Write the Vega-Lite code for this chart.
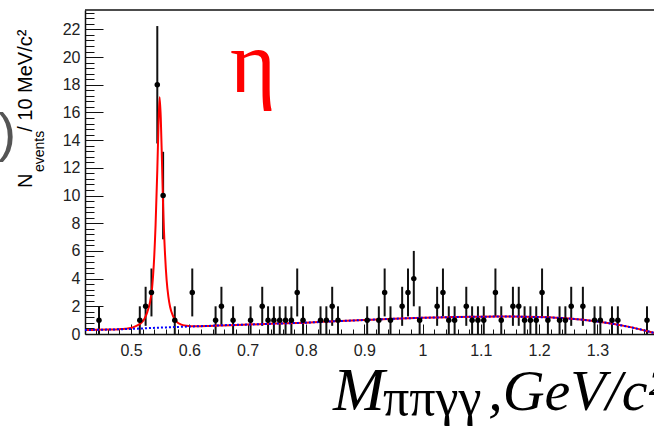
{
  "$schema": "https://vega.github.io/schema/vega-lite/v6.json",
  "autosize": {"type": "none"},
  "width": 569,
  "height": 324,
  "padding": {"left": 85, "top": 10, "right": 0, "bottom": 94},
  "background": "white",
  "config": {"view": {"stroke": null}, "axis": {"labelFont": "Liberation Sans", "labelFontSize": 16, "labelColor": "#222", "domainColor": "#111", "tickColor": "#111", "grid": false, "title": null}},
  "datasets": {
    "hist": [
      {"m": 0.445, "n": 1, "lo": 0, "hi": 2},
      {"m": 0.515, "n": 1, "lo": 0, "hi": 2},
      {"m": 0.525, "n": 2, "lo": 0.59, "hi": 3.41},
      {"m": 0.535, "n": 3, "lo": 1.27, "hi": 4.73},
      {"m": 0.545, "n": 18, "lo": 13.76, "hi": 22.24},
      {"m": 0.555, "n": 10, "lo": 6.84, "hi": 13.16},
      {"m": 0.575, "n": 1, "lo": 0, "hi": 2},
      {"m": 0.605, "n": 3, "lo": 1.27, "hi": 4.73},
      {"m": 0.645, "n": 1, "lo": 0, "hi": 2},
      {"m": 0.655, "n": 2, "lo": 0.59, "hi": 3.41},
      {"m": 0.675, "n": 1, "lo": 0, "hi": 2},
      {"m": 0.705, "n": 1, "lo": 0, "hi": 2},
      {"m": 0.725, "n": 2, "lo": 0.59, "hi": 3.41},
      {"m": 0.735, "n": 1, "lo": 0, "hi": 2},
      {"m": 0.745, "n": 1, "lo": 0, "hi": 2},
      {"m": 0.755, "n": 1, "lo": 0, "hi": 2},
      {"m": 0.765, "n": 1, "lo": 0, "hi": 2},
      {"m": 0.775, "n": 1, "lo": 0, "hi": 2},
      {"m": 0.785, "n": 3, "lo": 1.27, "hi": 4.73},
      {"m": 0.795, "n": 1, "lo": 0, "hi": 2},
      {"m": 0.825, "n": 1, "lo": 0, "hi": 2},
      {"m": 0.835, "n": 1, "lo": 0, "hi": 2},
      {"m": 0.845, "n": 2, "lo": 0.59, "hi": 3.41},
      {"m": 0.855, "n": 1, "lo": 0, "hi": 2},
      {"m": 0.905, "n": 1, "lo": 0, "hi": 2},
      {"m": 0.925, "n": 1, "lo": 0, "hi": 2},
      {"m": 0.935, "n": 3, "lo": 1.27, "hi": 4.73},
      {"m": 0.945, "n": 1, "lo": 0, "hi": 2},
      {"m": 0.965, "n": 2, "lo": 0.59, "hi": 3.41},
      {"m": 0.975, "n": 3, "lo": 1.27, "hi": 4.73},
      {"m": 0.985, "n": 4, "lo": 2, "hi": 6},
      {"m": 0.995, "n": 1, "lo": 0, "hi": 2},
      {"m": 1.025, "n": 2, "lo": 0.59, "hi": 3.41},
      {"m": 1.035, "n": 3, "lo": 1.27, "hi": 4.73},
      {"m": 1.045, "n": 1, "lo": 0, "hi": 2},
      {"m": 1.055, "n": 1, "lo": 0, "hi": 2},
      {"m": 1.075, "n": 2, "lo": 0.59, "hi": 3.41},
      {"m": 1.085, "n": 1, "lo": 0, "hi": 2},
      {"m": 1.095, "n": 1, "lo": 0, "hi": 2},
      {"m": 1.105, "n": 1, "lo": 0, "hi": 2},
      {"m": 1.125, "n": 3, "lo": 1.27, "hi": 4.73},
      {"m": 1.135, "n": 1, "lo": 0, "hi": 2},
      {"m": 1.155, "n": 2, "lo": 0.59, "hi": 3.41},
      {"m": 1.165, "n": 2, "lo": 0.59, "hi": 3.41},
      {"m": 1.175, "n": 1, "lo": 0, "hi": 2},
      {"m": 1.185, "n": 1, "lo": 0, "hi": 2},
      {"m": 1.195, "n": 1, "lo": 0, "hi": 2},
      {"m": 1.205, "n": 3, "lo": 1.27, "hi": 4.73},
      {"m": 1.215, "n": 1, "lo": 0, "hi": 2},
      {"m": 1.235, "n": 1, "lo": 0, "hi": 2},
      {"m": 1.245, "n": 1, "lo": 0, "hi": 2},
      {"m": 1.255, "n": 2, "lo": 0.59, "hi": 3.41},
      {"m": 1.275, "n": 2, "lo": 0.59, "hi": 3.41},
      {"m": 1.295, "n": 1, "lo": 0, "hi": 2},
      {"m": 1.305, "n": 1, "lo": 0, "hi": 2},
      {"m": 1.325, "n": 1, "lo": 0, "hi": 2},
      {"m": 1.335, "n": 1, "lo": 0, "hi": 2},
      {"m": 1.385, "n": 1, "lo": 0, "hi": 2}
    ],
    "fit": [
      {"m": 0.421, "y": 0.29}, {"m": 0.44, "y": 0.30}, {"m": 0.46, "y": 0.32}, {"m": 0.48, "y": 0.35},
      {"m": 0.49, "y": 0.38}, {"m": 0.50, "y": 0.44}, {"m": 0.51, "y": 0.60}, {"m": 0.518, "y": 0.82},
      {"m": 0.523, "y": 1.1}, {"m": 0.528, "y": 1.6}, {"m": 0.532, "y": 2.2}, {"m": 0.536, "y": 3.3},
      {"m": 0.539, "y": 5.0}, {"m": 0.542, "y": 7.8}, {"m": 0.545, "y": 11.8}, {"m": 0.547, "y": 15.0},
      {"m": 0.549, "y": 17.1}, {"m": 0.551, "y": 15.6}, {"m": 0.553, "y": 12.5}, {"m": 0.555, "y": 9.2},
      {"m": 0.558, "y": 6.0}, {"m": 0.561, "y": 3.9}, {"m": 0.564, "y": 2.7}, {"m": 0.567, "y": 1.95},
      {"m": 0.572, "y": 1.3}, {"m": 0.578, "y": 0.9}, {"m": 0.585, "y": 0.7}, {"m": 0.595, "y": 0.6},
      {"m": 0.61, "y": 0.56}, {"m": 0.63, "y": 0.58}, {"m": 0.65, "y": 0.62}, {"m": 0.70, "y": 0.68},
      {"m": 0.75, "y": 0.75}, {"m": 0.80, "y": 0.82}, {"m": 0.85, "y": 0.92}, {"m": 0.90, "y": 1.01},
      {"m": 0.95, "y": 1.10}, {"m": 1.00, "y": 1.17}, {"m": 1.05, "y": 1.22}, {"m": 1.10, "y": 1.25},
      {"m": 1.15, "y": 1.26}, {"m": 1.20, "y": 1.22}, {"m": 1.25, "y": 1.12}, {"m": 1.30, "y": 0.90},
      {"m": 1.35, "y": 0.55}, {"m": 1.40, "y": 0.05}
    ],
    "bkg": [
      {"m": 0.421, "y": 0.29}, {"m": 0.45, "y": 0.31}, {"m": 0.48, "y": 0.34}, {"m": 0.50, "y": 0.37},
      {"m": 0.55, "y": 0.46}, {"m": 0.60, "y": 0.54}, {"m": 0.63, "y": 0.58}, {"m": 0.65, "y": 0.62},
      {"m": 0.70, "y": 0.68}, {"m": 0.75, "y": 0.75}, {"m": 0.80, "y": 0.82}, {"m": 0.85, "y": 0.92},
      {"m": 0.90, "y": 1.01}, {"m": 0.95, "y": 1.10}, {"m": 1.00, "y": 1.17}, {"m": 1.05, "y": 1.22},
      {"m": 1.10, "y": 1.25}, {"m": 1.15, "y": 1.26}, {"m": 1.20, "y": 1.22}, {"m": 1.25, "y": 1.12},
      {"m": 1.30, "y": 0.90}, {"m": 1.35, "y": 0.55}, {"m": 1.40, "y": 0.05}
    ],
    "one": [{}]
  },
  "resolve": {"axis": {"x": "independent", "y": "independent"}},
  "layer": [
    {
      "data": {"name": "hist"},
      "mark": {"type": "rule", "color": "#111", "strokeWidth": 2},
      "encoding": {
        "x": {"field": "m", "type": "quantitative", "scale": {"domain": [0.421, 1.397], "nice": false, "zero": false},
              "axis": {"orient": "bottom", "values": [0.5, 0.6, 0.7, 0.8, 0.9, 1, 1.1, 1.2, 1.3, 1.4], "format": "~g", "tickSize": -10, "labelPadding": 18, "domainWidth": 1.5, "tickWidth": 1}},
        "y": {"field": "lo", "type": "quantitative", "scale": {"domain": [0, 23.4], "nice": false},
              "axis": {"orient": "left", "values": [0, 2, 4, 6, 8, 10, 12, 14, 16, 18, 20, 22], "tickSize": -18, "labelPadding": 23, "domainWidth": 1.5, "tickWidth": 1}},
        "y2": {"field": "hi"}
      }
    },
    {
      "data": {"name": "fit"},
      "mark": {"type": "line", "color": "#ff0000", "strokeWidth": 2, "interpolate": "monotone", "clip": true},
      "encoding": {
        "x": {"field": "m", "type": "quantitative", "axis": {"orient": "bottom", "values": [0.44, 0.46, 0.48, 0.52, 0.54, 0.56, 0.58, 0.62, 0.64, 0.66, 0.68, 0.72, 0.74, 0.76, 0.78, 0.82, 0.84, 0.86, 0.88, 0.92, 0.94, 0.96, 0.98, 1.02, 1.04, 1.06, 1.08, 1.12, 1.14, 1.16, 1.18, 1.22, 1.24, 1.26, 1.28, 1.32, 1.34, 1.36, 1.38], "tickSize": -5, "labels": false, "domain": false, "tickWidth": 1}},
        "y": {"field": "y", "type": "quantitative", "axis": {"orient": "left", "values": [0.4, 0.8, 1.2, 1.6, 2.4, 2.8, 3.2, 3.6, 4.4, 4.8, 5.2, 5.6, 6.4, 6.8, 7.2, 7.6, 8.4, 8.8, 9.2, 9.6, 10.4, 10.8, 11.2, 11.6, 12.4, 12.8, 13.2, 13.6, 14.4, 14.8, 15.2, 15.6, 16.4, 16.8, 17.2, 17.6, 18.4, 18.8, 19.2, 19.6, 20.4, 20.8, 21.2, 21.6, 22.4, 22.8, 23.2], "tickSize": -9, "labels": false, "domain": false, "tickWidth": 1}}
      }
    },
    {
      "data": {"name": "bkg"},
      "mark": {"type": "line", "color": "#0000ff", "strokeWidth": 2, "strokeDash": [2, 2], "interpolate": "monotone", "clip": true},
      "encoding": {
        "x": {"field": "m", "type": "quantitative", "axis": null},
        "y": {"field": "y", "type": "quantitative", "axis": null}
      }
    },
    {
      "data": {"name": "hist"},
      "mark": {"type": "circle", "color": "#000", "size": 30, "opacity": 1},
      "encoding": {
        "x": {"field": "m", "type": "quantitative", "axis": null},
        "y": {"field": "n", "type": "quantitative", "axis": null}
      }
    },
    {
      "data": {"name": "one"},
      "mark": {"type": "rule", "color": "#111", "strokeWidth": 1.5},
      "encoding": {
        "y": {"datum": 23.4, "type": "quantitative", "axis": null}
      }
    },
    {
      "data": {"name": "one"},
      "mark": {"type": "text", "text": "η", "font": "Liberation Serif", "fontSize": 88, "color": "#ff0000", "align": "center", "baseline": "alphabetic", "clip": false},
      "encoding": {
        "x": {"datum": 0.7094, "type": "quantitative", "axis": null},
        "y": {"datum": 17.5, "type": "quantitative", "axis": null}
      }
    },
    {
      "data": {"name": "one"},
      "mark": {"type": "text", "text": ")", "font": "Liberation Sans", "fontSize": 54, "color": "#555", "align": "right", "baseline": "middle", "clip": false},
      "encoding": {
        "x": {"datum": 0.3026, "type": "quantitative", "axis": null},
        "y": {"datum": 14.37, "type": "quantitative", "axis": null}
      }
    },
    {
      "data": {"name": "one"},
      "mark": {"type": "text", "text": "M", "font": "Liberation Serif", "fontStyle": "italic", "fontSize": 62, "color": "#000", "align": "left", "baseline": "alphabetic", "clip": false},
      "encoding": {
        "x": {"datum": 0.8464, "type": "quantitative", "axis": null},
        "y": {"datum": -5.49, "type": "quantitative", "axis": null}
      }
    },
    {
      "data": {"name": "one"},
      "mark": {"type": "text", "text": "ππγγ", "font": "Liberation Serif", "fontSize": 52, "color": "#000", "align": "left", "baseline": "alphabetic", "clip": false},
      "encoding": {
        "x": {"datum": 0.9321, "type": "quantitative", "axis": null},
        "y": {"datum": -5.85, "type": "quantitative", "axis": null}
      }
    },
    {
      "data": {"name": "one"},
      "mark": {"type": "text", "text": ",GeV/c²", "font": "Liberation Serif", "fontStyle": "italic", "fontSize": 58, "color": "#000", "align": "left", "baseline": "alphabetic", "clip": false},
      "encoding": {
        "x": {"datum": 1.1125, "type": "quantitative", "axis": null},
        "y": {"datum": -5.49, "type": "quantitative", "axis": null}
      }
    },
    {
      "data": {"name": "one"},
      "mark": {"type": "text", "text": "N", "font": "Liberation Sans", "fontSize": 20, "color": "#000", "angle": 270, "align": "left", "baseline": "alphabetic", "clip": false},
      "encoding": {
        "x": {"datum": 0.3301, "type": "quantitative", "axis": null},
        "y": {"datum": 10.54, "type": "quantitative", "axis": null}
      }
    },
    {
      "data": {"name": "one"},
      "mark": {"type": "text", "text": "events", "font": "Liberation Sans", "fontSize": 14, "color": "#000", "angle": 270, "align": "left", "baseline": "alphabetic", "clip": false},
      "encoding": {
        "x": {"datum": 0.3499, "type": "quantitative", "axis": null},
        "y": {"datum": 11.7, "type": "quantitative", "axis": null}
      }
    },
    {
      "data": {"name": "one"},
      "mark": {"type": "text", "text": " /  10 MeV/c²", "font": "Liberation Sans", "fontSize": 20, "color": "#000", "angle": 270, "align": "left", "baseline": "alphabetic", "clip": false},
      "encoding": {
        "x": {"datum": 0.3301, "type": "quantitative", "axis": null},
        "y": {"datum": 14.6, "type": "quantitative", "axis": null}
      }
    }
  ]
}
